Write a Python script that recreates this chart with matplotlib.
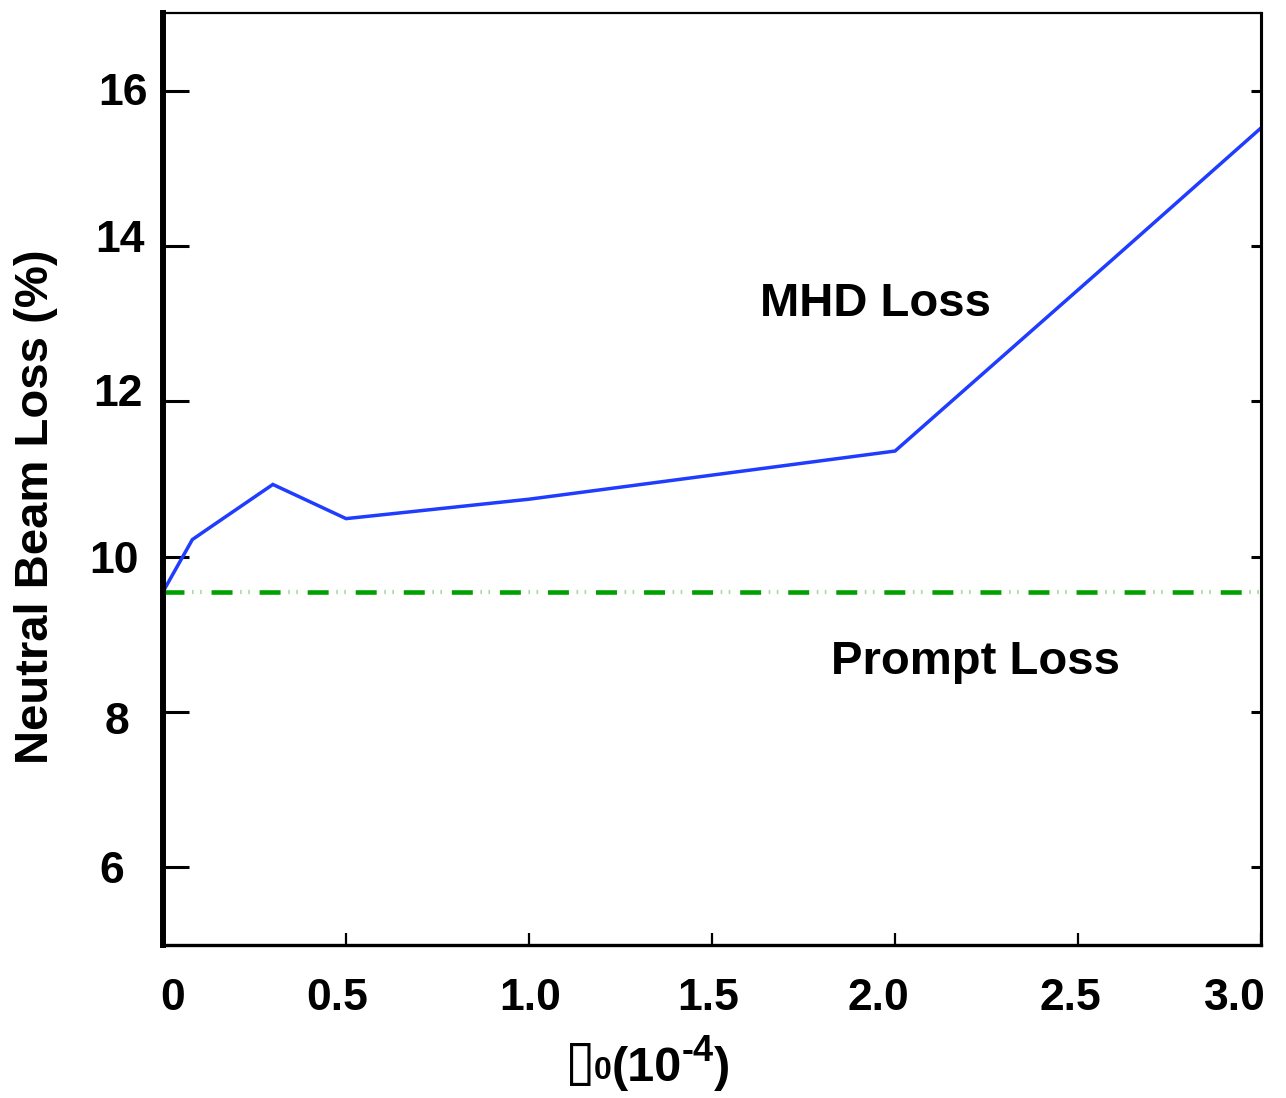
import matplotlib
matplotlib.use("Agg")
import matplotlib.pyplot as plt
import matplotlib.transforms as mtransforms

plt.rcParams['font.family'] = ['Liberation Sans', 'DejaVu Sans']
plt.rcParams['font.weight'] = 'bold'
plt.rcParams['lines.scale_dashes'] = False

# MHD loss vs perturbation amplitude
x_mhd = [0.0, 0.08, 0.12, 0.3, 0.5, 1.0, 2.0, 2.2, 2.6, 3.0]
y_mhd = [9.55, 10.22, 10.35, 10.93, 10.49, 10.74, 11.36, 12.19, 13.85, 15.52]

# prompt loss level (flat)
x_prompt = [0.0, 3.0]
y_prompt = [9.55, 9.55]

xticks = [0, 0.5, 1.0, 1.5, 2.0, 2.5, 3.0]
xticklabels = ['0', '0.5', '1.0', '1.5', '2.0', '2.5', '3.0']
yticks = [6, 8, 10, 12, 14, 16]

# hand nudges (pixels) for the tick labels
x_nudge = [10, -9, 1, -4, -17, -8, -26]
y_nudge = [(-22, 0), (-17, -6), (-8, 0), (-4, 11), (-2, 10), (1, 2)]

fig = plt.figure(figsize=(12.86, 10.98), dpi=100)
ax = fig.add_axes([0.1268, 0.1393, 0.8538, 0.8489])

ax.plot(x_mhd, y_mhd, color='#1f3cff', lw=2.5, solid_joinstyle='miter')
# dash part and faint double dots of the dash-dot-dot line
ax.plot(x_prompt, y_prompt, color='#a9dba9', lw=3.0, linestyle=(13.7, (1.2, 4.6, 1.2, 27.6)))
ax.plot(x_prompt, y_prompt, color='#00a000', lw=3.3, linestyle=(0, (15.1, 19.5)))

ax.set_xlim(0, 2.99)
ax.set_ylim(5, 17)

ax.set_xticks(xticks)
ax.set_xticklabels(xticklabels)
ax.set_yticks(yticks)

ax.tick_params(axis='y', direction='in', length=19, width=2.2, labelsize=32, pad=12, right=False)
ax.tick_params(axis='x', direction='in', length=9, width=1.6, labelsize=32, pad=24)
for lab in ax.get_xticklabels() + ax.get_yticklabels():
    lab.set_fontweight('bold')

for lab, dx in zip(ax.get_xticklabels(), x_nudge):
    lab.set_transform(lab.get_transform() + mtransforms.ScaledTranslation(dx / 100, 0, fig.dpi_scale_trans))
for lab, (dx, dy) in zip(ax.get_yticklabels(), y_nudge):
    lab.set_transform(lab.get_transform() + mtransforms.ScaledTranslation(dx / 100, dy / 100, fig.dpi_scale_trans))

# short ticks on the right side
rax = ax.secondary_yaxis('right')
rax.set_yticks(yticks)
rax.tick_params(direction='in', length=7, width=2.2, labelright=False)
rax.spines['right'].set_linewidth(2.2)

ax.spines['left'].set_linewidth(4.3)
ax.spines['bottom'].set_linewidth(2.4)
ax.spines['top'].set_linewidth(1.6)
ax.spines['right'].set_linewidth(2.2)

ax.set_ylabel('Neutral Beam Loss (%)', fontsize=34, fontweight='bold')
ax.yaxis.set_label_coords(-0.096, 0.47)

# x label built piece by piece: symbol, subscript 0, (10, superscript -4, )
t = fig.text(0.439, 0.006, '\u25af', fontsize=40, family='DejaVu Sans', fontweight='normal',
             ha='left', va='bottom')
t = ax.annotate('0', xy=(1, 0), xycoords=t, xytext=(-1, 4), textcoords='offset points',
                fontsize=23, fontweight='bold', va='bottom')
t = ax.annotate('(10', xy=(1, 0), xycoords=t, xytext=(0, -4), textcoords='offset points',
                fontsize=35, fontweight='bold', va='bottom')
t = ax.annotate('-4', xy=(1, 0), xycoords=t, xytext=(0, 16), textcoords='offset points',
                fontsize=26, fontweight='bold', va='bottom')
t = ax.annotate(')', xy=(1, 0), xycoords=t, xytext=(0, -16), textcoords='offset points',
                fontsize=35, fontweight='bold', va='bottom')

ax.text(1.63, 13.25, 'MHD Loss', fontsize=34, fontweight='bold', va='center')
ax.text(1.825, 8.64, 'Prompt Loss', fontsize=34, fontweight='bold', va='center')

fig.savefig('out.png', dpi=100)
